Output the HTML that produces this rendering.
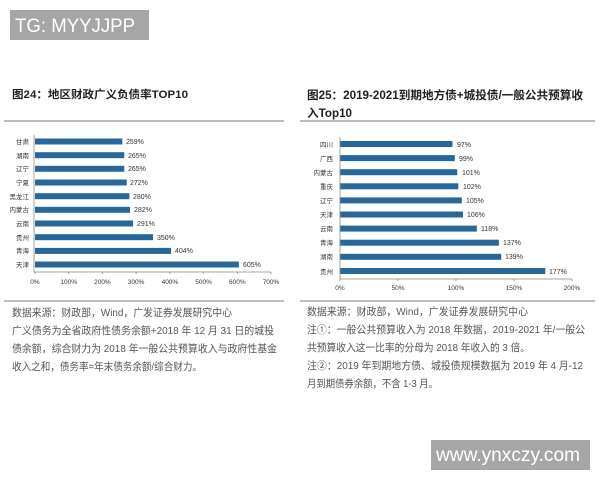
<!DOCTYPE html>
<html><head><meta charset="utf-8">
<style>
html,body{margin:0;padding:0;background:#fff;}
svg{display:block;}
text{font-family:"Liberation Sans","Noto Sans CJK SC",sans-serif;}
</style></head>
<body>
<svg width="600" height="480" viewBox="0 0 600 480" xmlns="http://www.w3.org/2000/svg">
<rect width="600" height="480" fill="#fff"/>
<!-- watermark top -->
<rect x="10" y="10" width="139" height="30" fill="#a6a6a6"/>
<text x="15" y="32" font-size="19" fill="#fff" textLength="120" lengthAdjust="spacingAndGlyphs">TG: MYYJJPP</text>

<!-- Left title -->
<text x="12" y="98" font-size="11" font-weight="bold" fill="#222" textLength="176" lengthAdjust="spacingAndGlyphs">图24：地区财政广义负债率TOP10</text>
<line x1="4" y1="121" x2="284" y2="121" stroke="#777" stroke-width="1"/>

<!-- Left chart -->
<g fill="#27679a">
<rect x="35" y="138.5" width="87.3" height="6"/>
<rect x="35" y="152.2" width="89.3" height="6"/>
<rect x="35" y="165.8" width="89.3" height="6"/>
<rect x="35" y="179.5" width="91.7" height="6"/>
<rect x="35" y="193.2" width="94.4" height="6"/>
<rect x="35" y="206.8" width="95.0" height="6"/>
<rect x="35" y="220.5" width="98.1" height="6"/>
<rect x="35" y="234.2" width="118.0" height="6"/>
<rect x="35" y="247.9" width="136.1" height="6"/>
<rect x="35" y="261.5" width="203.9" height="6"/>
</g>
<g font-size="7" fill="#333">
<text x="126" y="144">259%</text>
<text x="128" y="158">265%</text>
<text x="128" y="171">265%</text>
<text x="130" y="185">272%</text>
<text x="133" y="199">280%</text>
<text x="134" y="212">282%</text>
<text x="137" y="226">291%</text>
<text x="157" y="240">350%</text>
<text x="175" y="253">404%</text>
<text x="243" y="267">605%</text>
</g>
<g font-size="6.5" fill="#333" text-anchor="end">
<text x="29" y="144">甘肃</text>
<text x="29" y="158">湖南</text>
<text x="29" y="171">辽宁</text>
<text x="29" y="185">宁夏</text>
<text x="29" y="199">黑龙江</text>
<text x="29" y="212">内蒙古</text>
<text x="29" y="226">云南</text>
<text x="29" y="240">贵州</text>
<text x="29" y="253">青海</text>
<text x="29" y="267">天津</text>
</g>
<g stroke="#888" stroke-width="0.8">
<line x1="34" y1="135" x2="34" y2="272"/>
<line x1="34" y1="272" x2="271" y2="272"/>
<line x1="35" y1="272" x2="35" y2="274"/>
<line x1="68.7" y1="272" x2="68.7" y2="274"/>
<line x1="102.4" y1="272" x2="102.4" y2="274"/>
<line x1="136.1" y1="272" x2="136.1" y2="274"/>
<line x1="169.9" y1="272" x2="169.9" y2="274"/>
<line x1="203.6" y1="272" x2="203.6" y2="274"/>
<line x1="237.3" y1="272" x2="237.3" y2="274"/>
<line x1="271" y1="272" x2="271" y2="274"/>
</g>
<g font-size="6.5" fill="#333" text-anchor="middle">
<text x="35" y="284">0%</text>
<text x="68.7" y="284">100%</text>
<text x="102.4" y="284">200%</text>
<text x="136.1" y="284">300%</text>
<text x="169.9" y="284">400%</text>
<text x="203.6" y="284">500%</text>
<text x="237.3" y="284">600%</text>
<text x="271" y="284">700%</text>
</g>
<line x1="4" y1="301" x2="284" y2="301" stroke="#777" stroke-width="1"/>
<g font-size="10.5" fill="#555">
<text x="12" y="316" textLength="220" lengthAdjust="spacingAndGlyphs">数据来源：财政部，Wind，广发证券发展研究中心</text>
<text x="12" y="334" textLength="262" lengthAdjust="spacingAndGlyphs">广义债务为全省政府性债务余额+2018 年 12 月 31 日的城投</text>
<text x="12" y="352" textLength="265" lengthAdjust="spacingAndGlyphs">债余额，综合财力为 2018 年一般公共预算收入与政府性基金</text>
<text x="12" y="370" textLength="190" lengthAdjust="spacingAndGlyphs">收入之和，债务率=年末债务余额/综合财力。</text>
</g>

<!-- Right title -->
<text x="307" y="99" font-size="11.5" font-weight="bold" fill="#222" textLength="276" lengthAdjust="spacingAndGlyphs">图25：2019-2021到期地方债+城投债/一般公共预算收</text>
<text x="307" y="117" font-size="11.5" font-weight="bold" fill="#222" textLength="45" lengthAdjust="spacingAndGlyphs">入Top10</text>
<line x1="300" y1="121" x2="595" y2="121" stroke="#777" stroke-width="1"/>

<!-- Right chart -->
<g fill="#27679a">
<rect x="340" y="141" width="112.5" height="6"/>
<rect x="340" y="155.1" width="114.8" height="6"/>
<rect x="340" y="169.2" width="117.2" height="6"/>
<rect x="340" y="183.3" width="118.3" height="6"/>
<rect x="340" y="197.4" width="121.8" height="6"/>
<rect x="340" y="211.5" width="123.0" height="6"/>
<rect x="340" y="225.6" width="136.9" height="6"/>
<rect x="340" y="239.7" width="158.9" height="6"/>
<rect x="340" y="253.8" width="161.2" height="6"/>
<rect x="340" y="268" width="205.3" height="6"/>
</g>
<g font-size="7" fill="#333">
<text x="457" y="147">97%</text>
<text x="459" y="161">99%</text>
<text x="462" y="175">101%</text>
<text x="463" y="189">102%</text>
<text x="466" y="203">105%</text>
<text x="467" y="217">106%</text>
<text x="481" y="231">118%</text>
<text x="503" y="245">137%</text>
<text x="505" y="259">139%</text>
<text x="549" y="274">177%</text>
</g>
<g font-size="6.5" fill="#333" text-anchor="end">
<text x="333" y="147">四川</text>
<text x="333" y="161">广西</text>
<text x="333" y="175">内蒙古</text>
<text x="333" y="189">重庆</text>
<text x="333" y="203">辽宁</text>
<text x="333" y="217">天津</text>
<text x="333" y="231">云南</text>
<text x="333" y="245">青海</text>
<text x="333" y="259">湖南</text>
<text x="333" y="274">贵州</text>
</g>
<g stroke="#888" stroke-width="0.8">
<line x1="340" y1="137" x2="340" y2="279"/>
<line x1="340" y1="279" x2="572" y2="279"/>
<line x1="340" y1="279" x2="340" y2="281"/>
<line x1="398" y1="279" x2="398" y2="281"/>
<line x1="456" y1="279" x2="456" y2="281"/>
<line x1="514" y1="279" x2="514" y2="281"/>
<line x1="572" y1="279" x2="572" y2="281"/>
</g>
<g font-size="6.5" fill="#333" text-anchor="middle">
<text x="340" y="290">0%</text>
<text x="398" y="290">50%</text>
<text x="456" y="290">100%</text>
<text x="514" y="290">150%</text>
<text x="572" y="290">200%</text>
</g>
<line x1="300" y1="301" x2="595" y2="301" stroke="#777" stroke-width="1"/>
<g font-size="10.5" fill="#555">
<text x="307" y="315" textLength="221" lengthAdjust="spacingAndGlyphs">数据来源：财政部，Wind，广发证券发展研究中心</text>
<text x="307" y="333" textLength="278" lengthAdjust="spacingAndGlyphs">注①：一般公共预算收入为 2018 年数据，2019-2021 年/一般公</text>
<text x="307" y="351" textLength="223" lengthAdjust="spacingAndGlyphs">共预算收入这一比率的分母为 2018 年收入的 3 倍。</text>
<text x="307" y="369" textLength="276" lengthAdjust="spacingAndGlyphs">注②：2019 年到期地方债、城投债规模数据为 2019 年 4 月-12</text>
<text x="307" y="387" textLength="131" lengthAdjust="spacingAndGlyphs">月到期债券余额，不含 1-3 月。</text>
</g>

<!-- watermark bottom -->
<rect x="431" y="440" width="159" height="30" fill="#a6a6a6"/>
<text x="436" y="461" font-size="19" fill="#fff" textLength="144" lengthAdjust="spacingAndGlyphs">www.ynxczy.com</text>
</svg>
</body></html>
